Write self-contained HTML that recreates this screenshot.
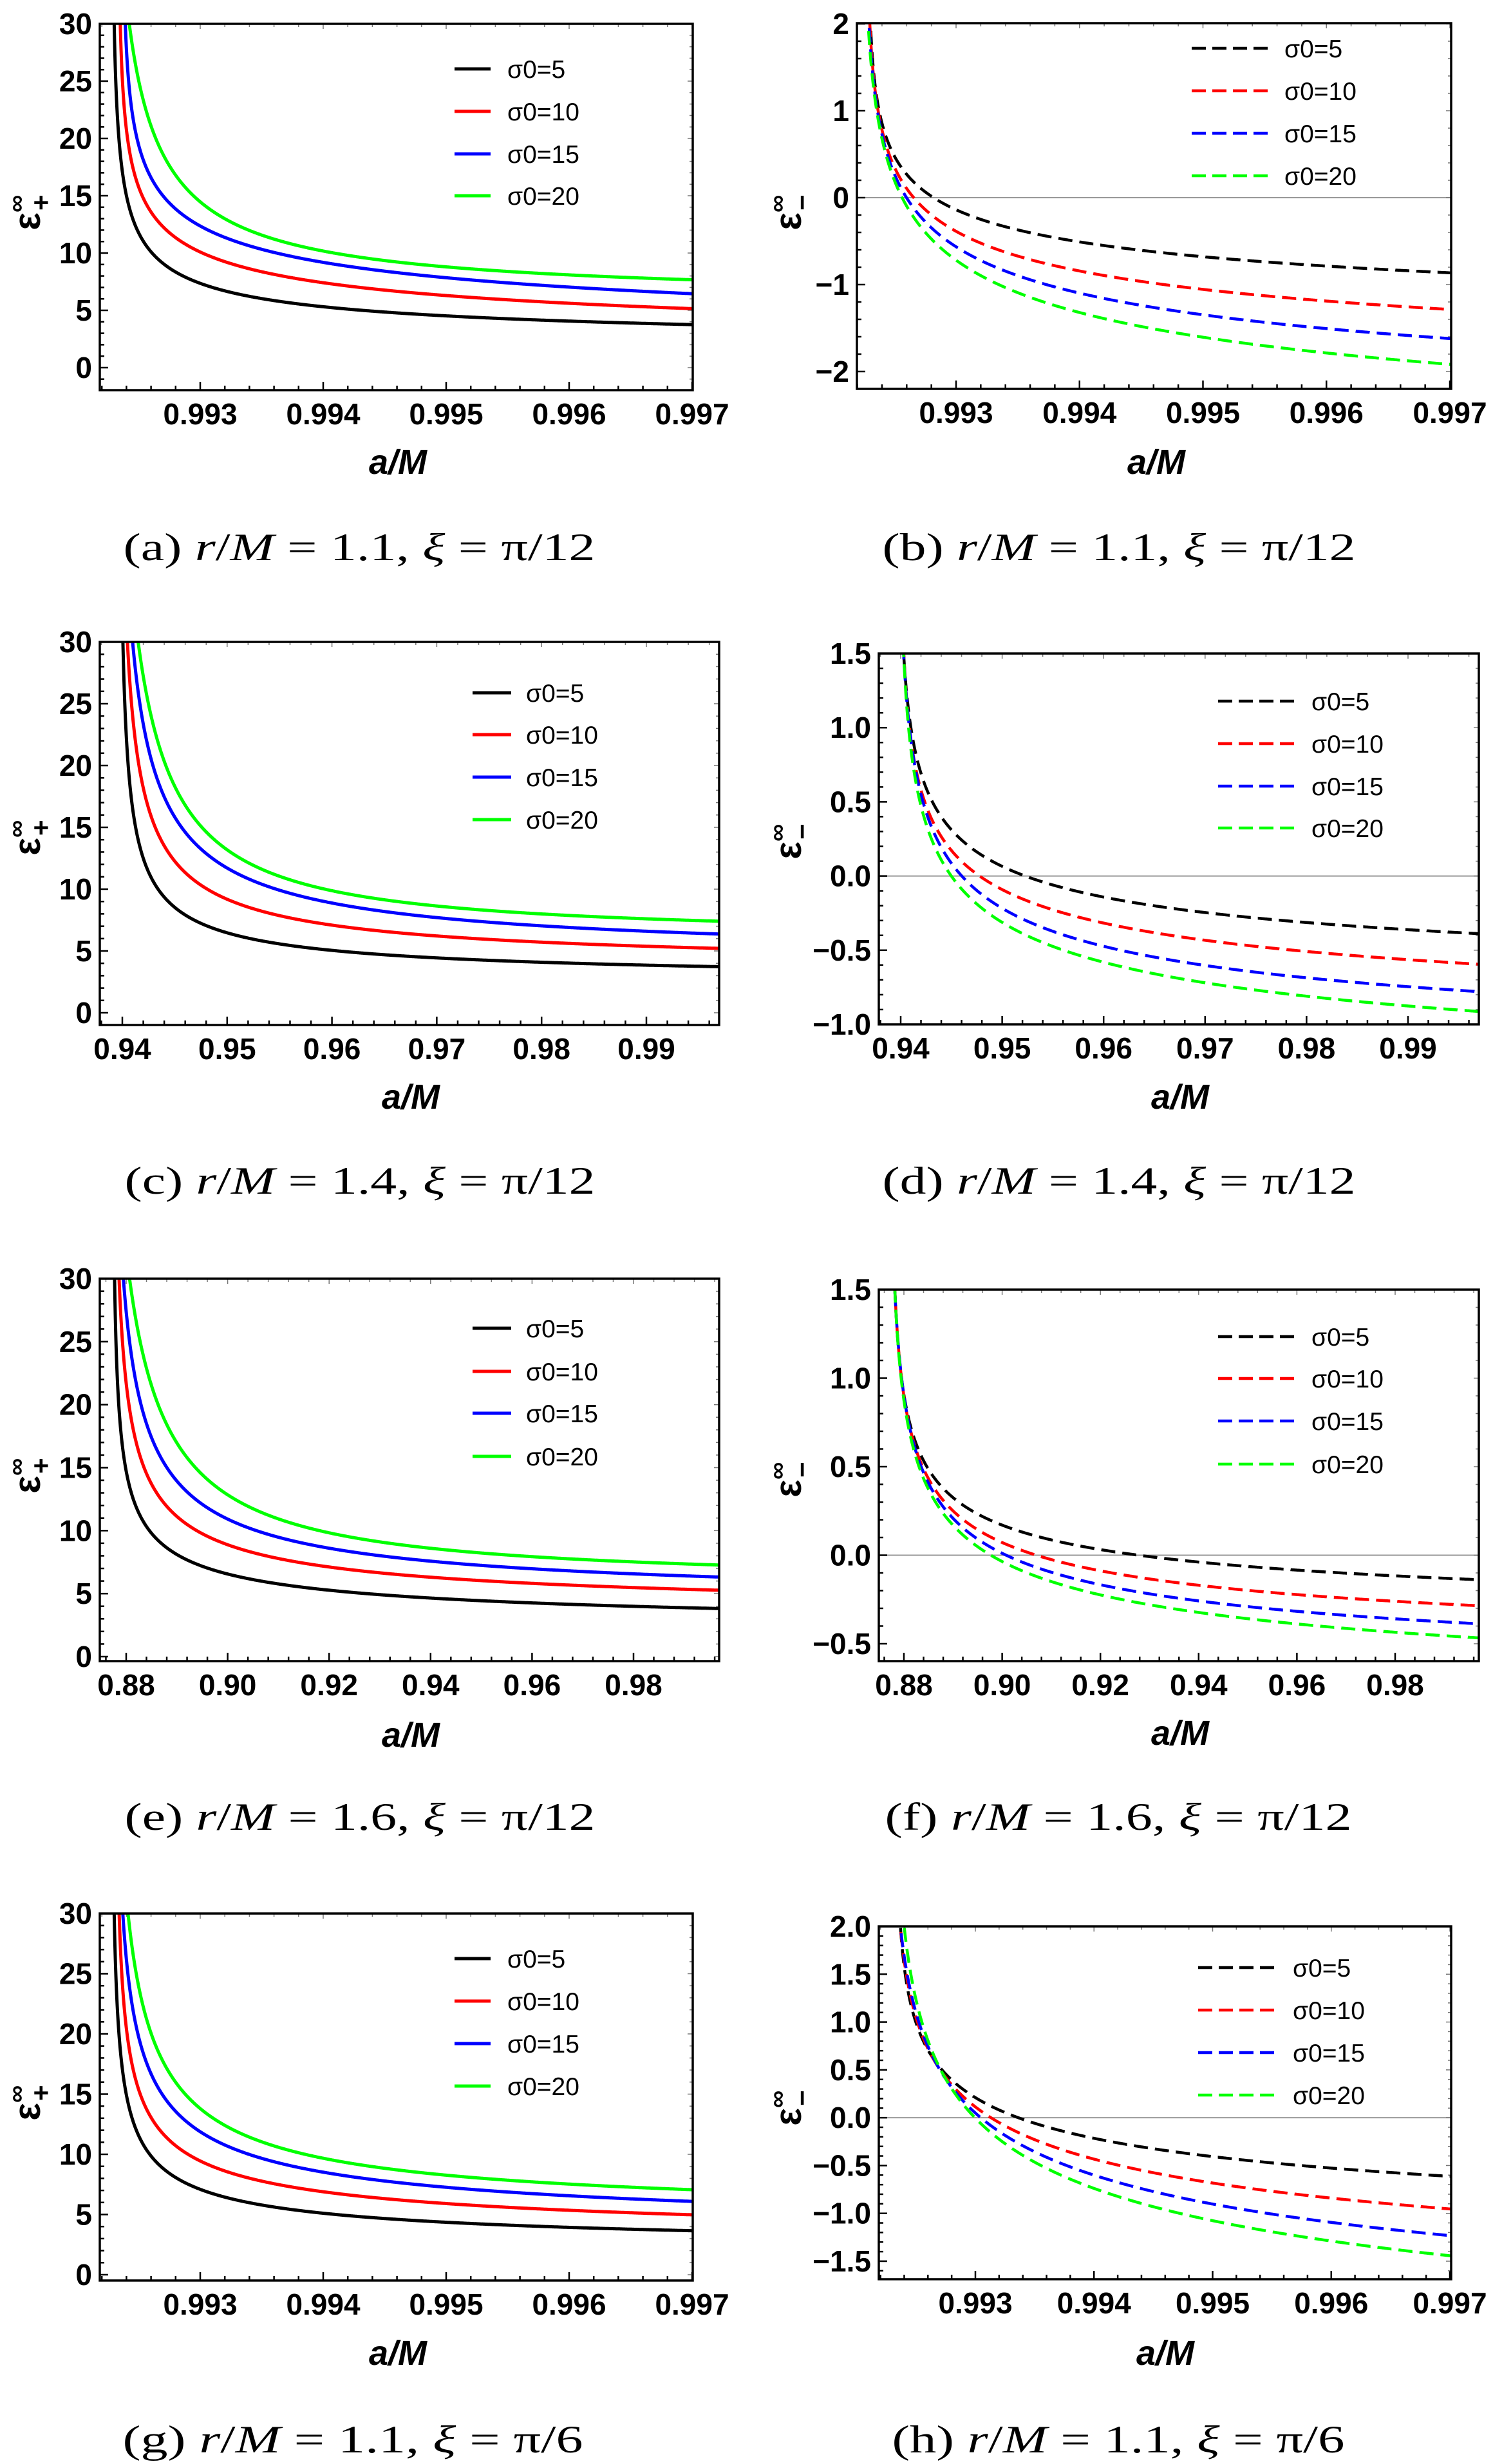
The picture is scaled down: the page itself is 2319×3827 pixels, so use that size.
<!DOCTYPE html>
<html><head><meta charset="utf-8"><style>html,body{margin:0;padding:0;background:#fff}svg{display:block}</style></head>
<body>
<svg id="s" width="2319" height="3827" viewBox="0 0 2319 3827" xmlns="http://www.w3.org/2000/svg">
<rect width="2319" height="3827" fill="#fff"/>
</svg>
<script>
const NS="http://www.w3.org/2000/svg";
const S=document.getElementById('s');
function el(t,a,p){const e=document.createElementNS(NS,t);for(const k in a)e.setAttribute(k,a[k]);(p||S).appendChild(e);return e;}
const COL=['#000000','#ff0000','#0000ff','#00ff00'];
const panels=[
{id:'a',fr:[155,37,1076,606],xm:[0.993,311,0.997,1075],ym:[30,37,0,571],minus:false,
 xt:{maj:[0.993,0.994,0.995,0.996,0.997],lab:['0.993','0.994','0.995','0.996','0.997'],minor:0.0002},
 yt:{maj:[0,5,10,15,20,25,30],lab:['0','5','10','15','20','25','30'],minor:1},
 leg:[706,762,788,[107,173,239,304]],ylab:[44,330],xlab:[618,718],cap:[558,850,733,'(a)','1.1','π/12'],
 d:[[[0.99230,30],[0.99234,20],[0.99240,15],[0.99261,10],[0.993,7.26],[0.9935,6.1],[0.994,5.3],[0.995,4.4],[0.996,4.0],[0.997,3.87]],
    [[0.99235,30],[0.99241,20],[0.99251,15],[0.993,10.5],[0.9935,8.4],[0.994,7.1],[0.995,6.1],[0.996,5.7],[0.997,5.4]],
    [[0.99239,30],[0.9925,20],[0.99265,15],[0.993,12.7],[0.9935,10.4],[0.994,9.0],[0.995,7.7],[0.996,7.1],[0.997,6.5]],
    [[0.99242,30],[0.99269,20],[0.99288,15],[0.993,14.0],[0.9935,11.7],[0.994,10.3],[0.995,8.9],[0.996,8.1],[0.997,7.5]]]},
{id:'b',fr:[1331,36,2254,604],xm:[0.993,1485,0.997,2252],ym:[2,37,-2,577],minus:true,
 xt:{maj:[0.993,0.994,0.995,0.996,0.997],lab:['0.993','0.994','0.995','0.996','0.997'],minor:0.0002},
 yt:{maj:[-2,-1,0,1,2],lab:['−2','−1','0','1','2'],minor:0.2},
 leg:[1851,1969,1995,[75,141,207,273]],ylab:[1226,330],xlab:[1796,718],cap:[1738,850,735,'(b)','1.1','π/12'],
 d:[[[0.99231,2],[0.99236,1],[0.99248,0.5],[0.99282,0],[0.993,-0.115],[0.9935,-0.33],[0.994,-0.5],[0.995,-0.67],[0.996,-0.79],[0.997,-0.876]],
    [[0.99231,2],[0.99235,1],[0.99243,0.5],[0.99260,0],[0.993,-0.37],[0.9935,-0.58],[0.994,-0.76],[0.995,-1.03],[0.996,-1.2],[0.997,-1.32]],
    [[0.99231,2],[0.99235,1],[0.99240,0.5],[0.99252,0],[0.993,-0.54],[0.9935,-0.8],[0.994,-1.01],[0.995,-1.31],[0.996,-1.5],[0.997,-1.65]],
    [[0.99231,2],[0.99235,1],[0.99238,0.5],[0.99248,0],[0.993,-0.71],[0.9935,-1.01],[0.994,-1.23],[0.995,-1.55],[0.996,-1.78],[0.997,-1.94]]]},
{id:'c',fr:[155,997,1117,1592],xm:[0.94,190,0.99,1004],ym:[30,997,0,1573],minus:false,
 xt:{maj:[0.94,0.95,0.96,0.97,0.98,0.99],lab:['0.94','0.95','0.96','0.97','0.98','0.99'],minor:0.002},
 yt:{maj:[0,5,10,15,20,25,30],lab:['0','5','10','15','20','25','30'],minor:1},
 leg:[734,794,817,[1076,1141,1207,1273]],ylab:[44,1301],xlab:[638,1704],cap:[559,1834,731,'(c)','1.4','π/12'],
 d:[[[0.94005,30],[0.9406,20],[0.9413,15],[0.9430,10],[0.95,6.73],[0.96,4.99],[0.97,4.36],[0.98,4.04],[0.99,3.89],[0.9969,3.79]],
    [[0.9405,30],[0.9415,20],[0.9432,15],[0.9485,10],[0.95,8.95],[0.96,7.2],[0.97,6.25],[0.98,5.69],[0.99,5.37],[0.9969,5.24]],
    [[0.9410,30],[0.9428,20],[0.9458,15],[0.95,11.6],[0.96,8.94],[0.97,7.68],[0.98,7.04],[0.99,6.63],[0.9969,6.41]],
    [[0.9415,30],[0.9442,20],[0.9478,15],[0.95,12.89],[0.96,9.98],[0.97,8.72],[0.98,7.99],[0.99,7.52],[0.9969,7.36]]]},
{id:'d',fr:[1365,1015,2297,1591],xm:[0.94,1399,0.99,2187],ym:[1.5,1015,-1,1591],minus:true,
 xt:{maj:[0.94,0.95,0.96,0.97,0.98,0.99],lab:['0.94','0.95','0.96','0.97','0.98','0.99'],minor:0.002},
 yt:{maj:[-1,-0.5,0,0.5,1,1.5],lab:['−1.0','−0.5','0.0','0.5','1.0','1.5'],minor:0.1},
 leg:[1892,2010,2037,[1089,1155,1221,1286]],ylab:[1226,1307],xlab:[1833,1704],cap:[1738,1834,735,'(d)','1.4','π/12'],
 d:[[[0.9403,1.5],[0.9410,1.0],[0.9429,0.5],[0.95,0.086],[0.9530,0],[0.96,-0.164],[0.97,-0.256],[0.98,-0.322],[0.99,-0.353],[0.997,-0.374]],
    [[0.9403,1.5],[0.9409,1.0],[0.9424,0.5],[0.9478,0],[0.95,-0.111],[0.96,-0.309],[0.97,-0.427],[0.98,-0.506],[0.99,-0.558],[0.997,-0.611]],
    [[0.9403,1.5],[0.9408,1.0],[0.9423,0.5],[0.9460,0],[0.95,-0.23],[0.96,-0.479],[0.97,-0.598],[0.98,-0.677],[0.99,-0.737],[0.997,-0.79]],
    [[0.9403,1.5],[0.9407,1.0],[0.9421,0.5],[0.9450,0],[0.95,-0.32],[0.96,-0.585],[0.97,-0.716],[0.98,-0.808],[0.99,-0.874],[0.997,-0.926]]]},
{id:'e',fr:[155,1986,1117,2580],xm:[0.88,196,0.98,984],ym:[30,1986,0,2573],minus:false,
 xt:{maj:[0.88,0.90,0.92,0.94,0.96,0.98],lab:['0.88','0.90','0.92','0.94','0.96','0.98'],minor:0.004},
 yt:{maj:[0,5,10,15,20,25,30],lab:['0','5','10','15','20','25','30'],minor:1},
 leg:[734,794,817,[2063,2130,2195,2262]],ylab:[44,2292],xlab:[638,2695],cap:[559,2822,731,'(e)','1.6','π/12'],
 d:[[[0.8777,30],[0.8786,20],[0.8800,15],[0.8838,10],[0.89,8.0],[0.90,6.91],[0.92,5.21],[0.94,4.59],[0.96,4.19],[0.98,3.97],[0.9969,3.81]],
    [[0.8786,30],[0.8805,20],[0.8838,15],[0.8927,10],[0.90,8.99],[0.92,7.22],[0.94,6.29],[0.96,5.74],[0.98,5.46],[0.9969,5.3]],
    [[0.8795,30],[0.8826,20],[0.8880,15],[0.90,11.1],[0.92,8.62],[0.94,7.53],[0.96,6.91],[0.98,6.6],[0.9969,6.45]],
    [[0.8807,30],[0.8861,20],[0.8936,15],[0.90,12.96],[0.92,9.86],[0.94,8.56],[0.96,7.84],[0.98,7.53],[0.9969,7.38]]]},
{id:'f',fr:[1365,2003,2297,2580],xm:[0.88,1404,0.98,2167],ym:[1.5,2003,-0.5,2553],minus:true,
 xt:{maj:[0.88,0.90,0.92,0.94,0.96,0.98],lab:['0.88','0.90','0.92','0.94','0.96','0.98'],minor:0.004},
 yt:{maj:[-0.5,0,0.5,1,1.5],lab:['−0.5','0.0','0.5','1.0','1.5'],minor:0.1},
 leg:[1892,2010,2037,[2076,2141,2207,2274]],ylab:[1226,2298],xlab:[1833,2692],cap:[1737,2822,725,'(f)','1.6','π/12'],
 d:[[[0.8781,1.5],[0.8800,1.0],[0.8834,0.5],[0.89,0.349],[0.90,0.172],[0.92,0.029],[0.9265,0],[0.94,-0.037],[0.96,-0.088],[0.98,-0.119],[0.997,-0.141]],
    [[0.8781,1.5],[0.8800,1.0],[0.8829,0.5],[0.89,0.26],[0.90,0.062],[0.9071,0],[0.92,-0.088],[0.94,-0.17],[0.96,-0.225],[0.98,-0.258],[0.997,-0.287]],
    [[0.8781,1.5],[0.8800,1.0],[0.8824,0.5],[0.89,0.228],[0.90,0.007],[0.92,-0.17],[0.94,-0.258],[0.96,-0.318],[0.98,-0.357],[0.997,-0.384]],
    [[0.8781,1.5],[0.8800,1.0],[0.8819,0.5],[0.89,0.195],[0.8969,0],[0.92,-0.225],[0.94,-0.324],[0.96,-0.39],[0.98,-0.435],[0.997,-0.463]]]},
{id:'g',fr:[155,2972,1076,3542],xm:[0.993,311,0.997,1075],ym:[30,2972,0,3533],minus:false,
 xt:{maj:[0.993,0.994,0.995,0.996,0.997],lab:['0.993','0.994','0.995','0.996','0.997'],minor:0.0002},
 yt:{maj:[0,5,10,15,20,25,30],lab:['0','5','10','15','20','25','30'],minor:1},
 leg:[706,762,788,[3042,3108,3174,3240]],ylab:[44,3266],xlab:[618,3655],cap:[548,3789,715,'(g)','1.1','π/6'],
 d:[[[0.99230,30],[0.99234,20],[0.9924,15],[0.99257,10],[0.993,7.27],[0.9935,5.9],[0.994,5.02],[0.995,4.27],[0.996,3.92],[0.997,3.68]],
    [[0.99234,30],[0.99241,20],[0.99252,15],[0.99281,10],[0.993,9.81],[0.9935,7.9],[0.994,6.73],[0.995,5.83],[0.996,5.32],[0.997,5.02]],
    [[0.99237,30],[0.9925,20],[0.99267,15],[0.993,12.05],[0.9935,9.8],[0.994,8.31],[0.995,7.27],[0.996,6.52],[0.997,6.13]],
    [[0.99241,30],[0.99263,20],[0.99286,15],[0.993,13.55],[0.9935,11.2],[0.994,9.66],[0.995,8.16],[0.996,7.48],[0.997,7.03]]]},
{id:'h',fr:[1365,2992,2254,3540],xm:[0.993,1515,0.997,2252],ym:[2,2992,-1.5,3512],minus:true,
 xt:{maj:[0.993,0.994,0.995,0.996,0.997],lab:['0.993','0.994','0.995','0.996','0.997'],minor:0.0002},
 yt:{maj:[-1.5,-1,-0.5,0,0.5,1,1.5,2],lab:['−1.5','−1.0','−0.5','0.0','0.5','1.0','1.5','2.0'],minor:0.1},
 leg:[1861,1979,2008,[3056,3122,3188,3254]],ylab:[1226,3274],xlab:[1810,3655],cap:[1737,3789,703,'(h)','1.1','π/6'],
 d:[[[0.99237,2],[0.99241,1.5],[0.99248,1.0],[0.99270,0.5],[0.993,0.231],[0.99340,0],[0.994,-0.202],[0.995,-0.409],[0.996,-0.522],[0.997,-0.616]],
    [[0.99237,2],[0.99242,1.5],[0.99249,1.0],[0.99270,0.5],[0.993,0.156],[0.99312,0],[0.994,-0.42],[0.995,-0.69],[0.996,-0.84],[0.997,-0.953]],
    [[0.99237,2],[0.99243,1.5],[0.9925,1.0],[0.99271,0.5],[0.993,0.06],[0.99304,0],[0.994,-0.578],[0.995,-0.917],[0.996,-1.105],[0.997,-1.218]],
    [[0.99241,2],[0.99245,1.5],[0.99252,1.0],[0.99272,0.5],[0.99301,0],[0.994,-0.71],[0.995,-1.105],[0.996,-1.293],[0.997,-1.425]]]}
];
// fit y = c + k*(x-x0)^-p in pixel space
function fit(P,pts,X,Y){
  const px=pts.map(p=>X(p[0])), py=pts.map(p=>Y(p[1]));
  const n=px.length, xmin=Math.min(...px);
  let best=null;
  for(let off=0.5;off<=80;off*=1.08){
    const x0=xmin-off;
    for(let p=0.2;p<=2.5;p+=0.05){
      const g=px.map(x=>Math.pow(x-x0,-p));
      let sg=0,sgg=0,sy=0,sgy=0;
      for(let i=0;i<n;i++){sg+=g[i];sgg+=g[i]*g[i];sy+=py[i];sgy+=g[i]*py[i];}
      const det=n*sgg-sg*sg; if(Math.abs(det)<1e-30)continue;
      const k=(n*sgy-sg*sy)/det, c=(sy-k*sg)/n;
      let err=0;
      for(let i=0;i<n;i++){const dy=c+k*g[i]-py[i];const sl=-k*p*Math.pow(px[i]-x0,-p-1);err+=dy*dy/(1+sl*sl);}
      if(!best||err<best.err)best={err,x0,p,k,c};
    }
  }
  return best;
}
panels.forEach((P,pi)=>{
  const [L,T,R,B]=P.fr;
  const X=x=>P.xm[1]+(x-P.xm[0])*(P.xm[3]-P.xm[1])/(P.xm[2]-P.xm[0]);
  const Y=y=>P.ym[1]+(y-P.ym[0])*(P.ym[3]-P.ym[1])/(P.ym[2]-P.ym[0]);
  const Xi=px=>P.xm[0]+(px-P.xm[1])*(P.xm[2]-P.xm[0])/(P.xm[3]-P.xm[1]);
  const Yi=py=>P.ym[0]+(py-P.ym[1])*(P.ym[2]-P.ym[0])/(P.ym[3]-P.ym[1]);
  const cp=el('clipPath',{id:'c'+pi});el('rect',{x:L,y:T,width:R-L,height:B-T},cp);
  if(P.minus) el('line',{x1:L,x2:R,y1:Y(0),y2:Y(0),stroke:'#999',"stroke-width":2});
  const g=el('g',{stroke:'#000',"stroke-width":2.5});
  const x0=Xi(L),x1=Xi(R),y0=Yi(B),y1=Yi(T);
  const st=P.xt.minor;
  for(let k=Math.ceil(x0/st-1e-6);k*st<=x1+1e-9;k++){const v=k*st,px=X(v);
    const maj=P.xt.maj.some(t=>Math.abs(t-v)<st/3);const len=maj?13:7;
    el('line',{x1:px,x2:px,y1:B,y2:B-len},g);
    el('line',{x1:px,x2:px,y1:T,y2:T+(maj?8:5),stroke:'#777',"stroke-width":1.5},g);}
  const sy=P.yt.minor;
  for(let k=Math.ceil(y0/sy-1e-6);k*sy<=y1+1e-9;k++){const v=k*sy,py=Y(v);
    const maj=P.yt.maj.some(t=>Math.abs(t-v)<sy/3);const len=maj?13:7;
    el('line',{x1:L,x2:L+len,y1:py,y2:py},g);
    el('line',{x1:R,x2:R-(maj?8:5),y1:py,y2:py,stroke:'#777',"stroke-width":1.5},g);}
  const cg=el('g',{"clip-path":'url(#c'+pi+')',fill:'none',"stroke-width":5,"stroke-linejoin":'round'});
  P.d.forEach((pts,ci)=>{
    const f=fit(P,pts,X,Y);
    let d='';let started=false;
    for(let px=L;px<=R+1;px+=0.5){
      if(px<=f.x0)continue;
      let y=f.c+f.k*Math.pow(px-f.x0,-f.p);
      if(y<T-200){ if(!started){continue;} }
      y=Math.max(y,T-200);
      d+=(started?' L':'M')+px.toFixed(1)+','+y.toFixed(1);started=true;
    }
    const a={d:d,stroke:COL[ci]};
    if(P.minus){a["stroke-dasharray"]='22 11';a["stroke-width"]=4.5;}
    el('path',a,cg);
  });
  el('rect',{x:L,y:T,width:R-L,height:B-T,fill:'none',stroke:'#000',"stroke-width":3.5});
  const tf={"font-family":'Liberation Sans, Arial, sans-serif',"font-weight":'bold',"font-size":46,fill:'#000'};
  P.xt.maj.forEach((v,i)=>{const t=el('text',Object.assign({x:X(v),y:B+53,"text-anchor":'middle'},tf));t.textContent=P.xt.lab[i];});
  P.yt.maj.forEach((v,i)=>{const t=el('text',Object.assign({x:L-12,y:Y(v)+16,"text-anchor":'end'},tf));t.textContent=P.yt.lab[i];});
  const [lx1,lx2,tx,rows]=P.leg;
  ['σ0=5','σ0=10','σ0=15','σ0=20'].forEach((s,i)=>{
    const a={x1:lx1,x2:lx2,y1:rows[i],y2:rows[i],stroke:COL[i],"stroke-width":5};
    if(P.minus){a["stroke-dasharray"]='22 10';a["stroke-width"]=4.5;}
    el('line',a);
    const t=el('text',{x:tx,y:rows[i]+14,"font-family":'Liberation Sans, Arial, sans-serif',"font-size":39,fill:'#000'});t.textContent=s;
  });
  const yl=el('text',{transform:'translate('+P.ylab[0]+','+P.ylab[1]+') rotate(-90)',"text-anchor":'middle',"font-family":'Liberation Sans, DejaVu Sans, sans-serif',"font-weight":'bold',"font-size":58,fill:'#000',y:18});
  const e1=el('tspan',{},yl);e1.textContent='ε';
  const e2=el('tspan',{dy:-24,"font-size":38},yl);e2.textContent='∞';
  const e3=el('tspan',{dx:-24,dy:40,"font-size":42},yl);e3.textContent=P.minus?'−':'+';
  const xl=el('text',{x:P.xlab[0],y:P.xlab[1]+18,"text-anchor":'middle',"font-family":'Liberation Sans, Arial, sans-serif',"font-weight":'bold',"font-style":'italic',"font-size":54,fill:'#000'});xl.textContent='a/M';
  const [cx,cy,cw,lab,rv,xv]=P.cap;
  const ct=el('text',{x:cx,y:cy+20,"text-anchor":'middle',"font-family":'Liberation Serif, DejaVu Serif, serif',"font-size":60,fill:'#000',textLength:cw,lengthAdjust:'spacingAndGlyphs'});
  const parts=[[lab+' ',0],['r',1],['/',0],['M',1],[' = '+rv+', ',0],['ξ',1],[' = '+xv,0]];
  parts.forEach(p=>{const t=el('tspan',p[1]?{"font-style":'italic'}:{},ct);t.textContent=p[0];});
});
</script>
</body></html>
